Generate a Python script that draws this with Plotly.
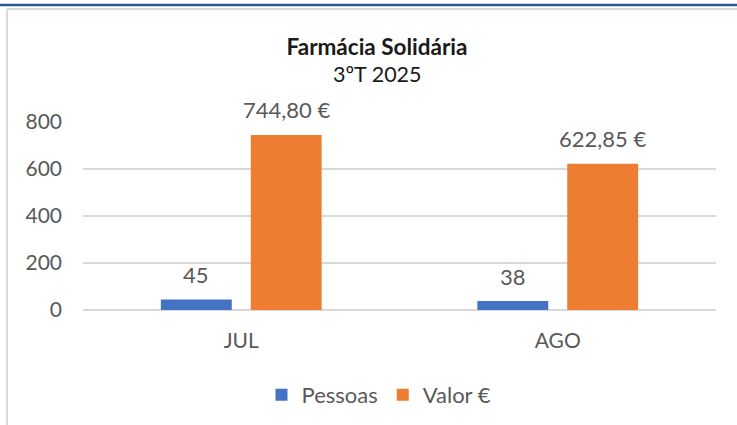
import plotly.graph_objects as go

categories = ["JUL", "AGO"]
pessoas = [45, 38]
valor = [744.80, 622.85]
series_names = ["Pessoas", "Valor €"]
y_ticks = [0, 200, 400, 600, 800]
title_main = "Farmácia Solidária"
title_sub = "3ºT 2025"

W, H = 737, 425
L, R, T, B = 83, 21, 122, 115
PW = W - L - R
PH = H - T - B


def px_x(x):
    return (x - L) / PW


def px_y(y):
    return (H - B - y) / PH


FONT = "Lato"
GRAY = "#595959"
GRID = "#D9D9D9"
colors = ["#4472C4", "#ED7D31"]
BAR_W = 0.224
OFFSETS = [-0.254, 0.030]
FS = 21
FS_LBL = 22


def fmt_pessoas(v):
    return f"{v:d}"


def fmt_valor(v):
    return f"{v:.2f}".replace(".", ",") + " €"


fig = go.Figure()
annotations = []
for name, vals, off, col, fmt in zip(series_names, [pessoas, valor], OFFSETS, colors,
                                      [fmt_pessoas, fmt_valor]):
    fig.add_bar(x=categories, y=vals, name=name, width=BAR_W, offset=off,
                marker=dict(color=col, line=dict(width=0)))
    for i, v in enumerate(vals):
        annotations.append(dict(x=i + off + BAR_W / 2, y=v, xref="x", yref="y",
                                text=fmt(v), showarrow=False, yanchor="middle", yshift=25,
                                font=dict(family=FONT, size=FS_LBL, color=GRAY)))

# subtitle
annotations.append(dict(x=377 / W, xref="paper", y=px_y(74), yref="paper", text=title_sub,
                        showarrow=False, xanchor="center", yanchor="middle",
                        font=dict(family=FONT, size=21.5, color="#1A1A1A")))

shapes = [
    # top blue page line
    dict(type="line", xref="paper", yref="paper", x0=px_x(0), x1=px_x(W), y0=px_y(5), y1=px_y(5),
         line=dict(color="#2E5E98", width=2.5), layer="above"),
    # chart frame top
    dict(type="line", xref="paper", yref="paper", x0=px_x(7), x1=px_x(W), y0=px_y(9), y1=px_y(9),
         line=dict(color="#DADADA", width=2)),
    # chart frame left
    dict(type="line", xref="paper", yref="paper", x0=px_x(7), x1=px_x(7), y0=px_y(9), y1=px_y(H),
         line=dict(color="#DADADA", width=2)),
]
# subtitle x in paper coords
annotations[-1]["x"] = px_x(377)

fig.update_layout(
    width=W, height=H,
    margin=dict(l=L, r=R, t=T, b=B),
    paper_bgcolor="white", plot_bgcolor="white",
    barmode="overlay",
    font=dict(family=FONT, size=FS, color=GRAY),
    title=dict(text=f"<b>{title_main}</b>",
               x=377 / W, xref="container",
               y=1 - 47 / H, yref="container", yanchor="middle", xanchor="center",
               font=dict(family=FONT, size=22.5, color="#1A1A1A")),
    legend=dict(orientation="h", x=379 / W, xanchor="center", xref="container",
                y=1 - 395 / H, yanchor="middle", yref="container",
                font=dict(family=FONT, size=FS_LBL, color=GRAY), itemwidth=30,
                traceorder="normal"),
    shapes=shapes,
    annotations=annotations,
)
fig.update_xaxes(type="category", showgrid=False, showline=False, ticks="",
                 ticklabelstandoff=16, tickfont=dict(family=FONT, size=FS, color=GRAY))
fig.update_yaxes(range=[0, 800], tickvals=y_ticks, showgrid=True, gridcolor=GRID, gridwidth=1.5,
                 zeroline=True, zerolinecolor=GRID, zerolinewidth=1.5, showline=False, ticks="",
                 ticklabelstandoff=20, tickfont=dict(family=FONT, size=FS, color=GRAY))

fig.write_html("out.html", config={"displayModeBar": False},
               post_script="document.body.style.margin='0';document.body.style.padding='0';")
